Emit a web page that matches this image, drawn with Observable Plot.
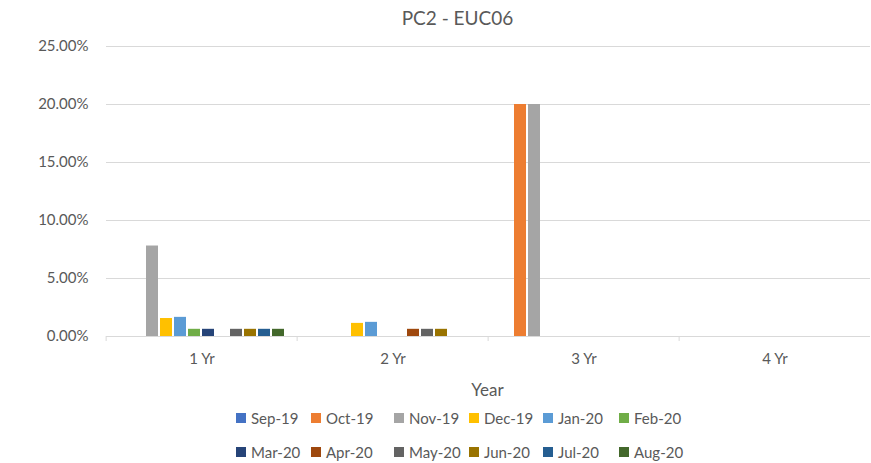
<!DOCTYPE html>
<html><head><meta charset="utf-8">
<script src="https://cdn.jsdelivr.net/npm/d3@7"></script>
<script src="https://cdn.jsdelivr.net/npm/@observablehq/plot@0.6"></script>
<style>
body{margin:0;background:#fff;font-family:Lato,"Open Sans",sans-serif;color:#595959;}
#wrap{width:871px;height:463px;position:relative;overflow:hidden;background:#fff}
#title{height:36px;line-height:36px;font-size:19px;text-align:center;padding-left:44px;color:#595959}
#xlabel{height:28px;line-height:28px;font-size:17px;text-align:center;padding-left:104px;color:#595959}
#legend{display:grid;grid-template-columns:75px 83px 75px 74px 76px auto;row-gap:14px;margin-left:236px;margin-top:4px;font-size:15px}
.item{display:flex;align-items:center;height:20px;white-space:nowrap}
.sw{width:10px;height:10px;margin-right:5px;flex:none}
svg{display:block}
</style></head>
<body><div id="wrap"><div id="title">PC2 - EUC06</div><div id="chart"></div><div id="xlabel">Year</div><div id="legend"></div></div>
<script>
const years = ["1 Yr", "2 Yr", "3 Yr", "4 Yr"];
const months = ["Sep-19","Oct-19","Nov-19","Dec-19","Jan-20","Feb-20","Mar-20","Apr-20","May-20","Jun-20","Jul-20","Aug-20"];
const colors = ["#4472C4","#ED7D31","#A5A5A5","#FFC000","#5B9BD5","#70AD47","#264478","#9E480E","#636363","#997300","#255E91","#43682B"];
// values in percent, one array per year, in month order
const yr1 = [0, 0, 7.8, 1.55, 1.65, 0.62, 0.62, 0, 0.62, 0.62, 0.62, 0.62];
const yr2 = [0, 0, 0, 1.13, 1.22, 0, 0, 0.62, 0.62, 0.62, 0, 0];
const yr3 = [0, 20, 20, 0, 0, 0, 0, 0, 0, 0, 0, 0];
const yr4 = [0, 0, 0, 0, 0, 0, 0, 0, 0, 0, 0, 0];
const yTicks = [0, 0.05, 0.10, 0.15, 0.20, 0.25];

const series = [yr1, yr2, yr3, yr4];
const data = [];
years.forEach((y, i) => months.forEach((m, j) => data.push({year: y, month: m, value: series[i][j] / 100})));

const W = 871, ML = 104;
const fxStep = (W - ML) / years.length;

const chart = Plot.plot({
  width: W, height: 340,
  marginLeft: ML, marginRight: 0, marginTop: 10, marginBottom: 40,
  style: {fontFamily: "Lato, 'Open Sans', sans-serif", fontSize: "15px", color: "#595959", background: "#fff"},
  fx: {domain: years, padding: 0, label: null},
  x: {domain: months, paddingInner: 0.14, paddingOuter: 0.82, axis: null},
  y: {domain: [0, 0.25], label: null},
  color: {domain: months, range: colors},
  marks: [
    Plot.gridY(yTicks, {stroke: "#d9d9d9", strokeOpacity: 1}),
    Plot.axisY(yTicks, {tickSize: 0, tickPadding: 18, tickFormat: d3.format(".2%"), fill: "#595959", fontSize: 15, label: null}),
    Plot.barY(data, {fx: "year", x: "month", y: "value", fill: "month"}),
    Plot.axisFx({anchor: "bottom", tickSize: 0, tickPadding: 17, fill: "#595959", fontSize: 15, label: null}),
    Plot.axisFx({anchor: "bottom", tickSize: 5, stroke: "#d9d9d9", tickFormat: () => "", dx: -fxStep / 2, label: null})
  ]
});
document.getElementById("chart").appendChild(chart);

const color = chart.scale("color");
const legend = document.getElementById("legend");
months.forEach((m, i) => {
  const it = document.createElement("div");
  it.className = "item";
  const sw = document.createElement("span");
  sw.className = "sw";
  sw.style.background = color.range[i];
  const tx = document.createElement("span");
  tx.textContent = m;
  it.appendChild(sw); it.appendChild(tx);
  legend.appendChild(it);
});
</script></body></html>
